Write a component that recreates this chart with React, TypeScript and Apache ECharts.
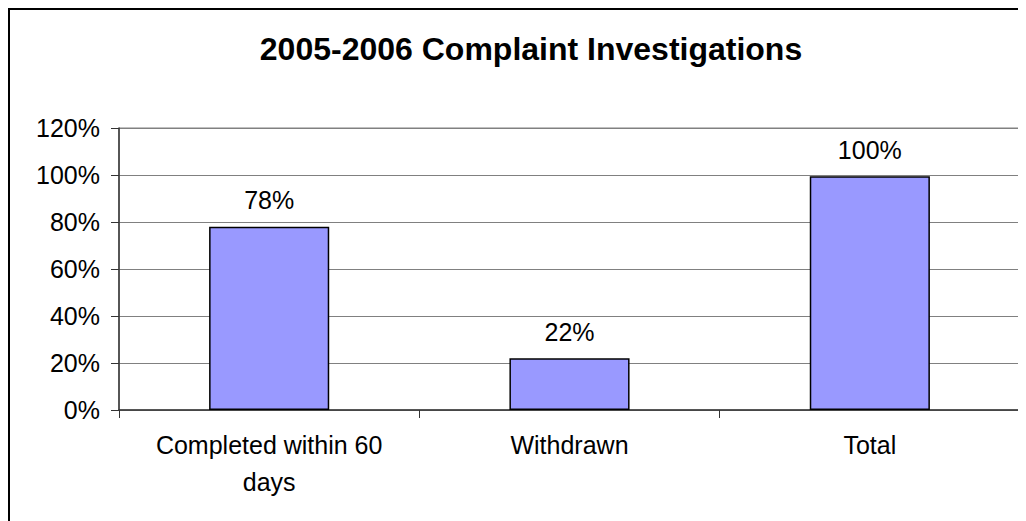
import React, { useEffect, useRef } from "react";
import * as echarts from "echarts";

const titleText = "2005-2006 Complaint Investigations";
const categories = ["Completed within 60\ndays", "Withdrawn", "Total"];
const values = [78, 22, 99.5];
const yTicks = { min: 0, max: 120, interval: 20 };

export default function App() {
  const ref = useRef<HTMLDivElement>(null);
  useEffect(() => {
    if (!ref.current) return;
    const chart = echarts.init(ref.current, null, { renderer: "svg" });
    const font = "'Liberation Sans', Arial, sans-serif";
    chart.setOption({
      animation: false,
      backgroundColor: "#ffffff",
      textStyle: { fontFamily: font },
      title: {
        text: titleText,
        left: 516,
        top: 18,
        textAlign: "center",
        textStyle: { fontFamily: font, fontSize: 32, fontWeight: "bold", color: "#000" },
      },
      grid: {
        left: 109,
        top: 118,
        width: 901,
        height: 282,
        show: true,
        borderColor: "#808080",
        borderWidth: 1,
        backgroundColor: "transparent",
      },
      xAxis: {
        type: "category",
        data: categories,
        axisLine: { lineStyle: { color: "#333", width: 1.5 } },
        axisTick: { show: true, length: 8, lineStyle: { color: "#333" } },
        axisLabel: {
          color: "#000",
          fontSize: 25,
          fontFamily: font,
          lineHeight: 37,
          margin: 16,
          interval: 0,
        },
      },
      yAxis: {
        type: "value",
        min: yTicks.min,
        max: yTicks.max,
        interval: yTicks.interval,
        axisLine: { show: true, lineStyle: { color: "#333", width: 1.5 } },
        axisTick: { show: true, length: 8, lineStyle: { color: "#333" } },
        splitLine: { lineStyle: { color: "#808080", width: 1 } },
        axisLabel: {
          color: "#000",
          fontSize: 25,
          fontFamily: font,
          margin: 19,
          formatter: (v: number) => v + "%",
        },
      },
      series: [
        {
          type: "bar",
          data: values,
          barWidth: "40%",
          itemStyle: { color: "#9999FF", borderColor: "#000", borderWidth: 1.5 },
          label: {
            show: true,
            position: "top",
            distance: 14,
            color: "#000",
            fontSize: 25,
            fontFamily: font,
            formatter: (p: any) => Math.round(p.value) + "%",
          },
        },
      ],
    });
    return () => chart.dispose();
  }, []);
  return (
    <div
      style={{
        width: 1020,
        height: 515,
        borderLeft: "2px solid #000",
        borderTop: "2px solid #000",
        boxSizing: "border-box",
      }}
    >
      <div ref={ref} style={{ width: 1016, height: 511 }} />
    </div>
  );
}
